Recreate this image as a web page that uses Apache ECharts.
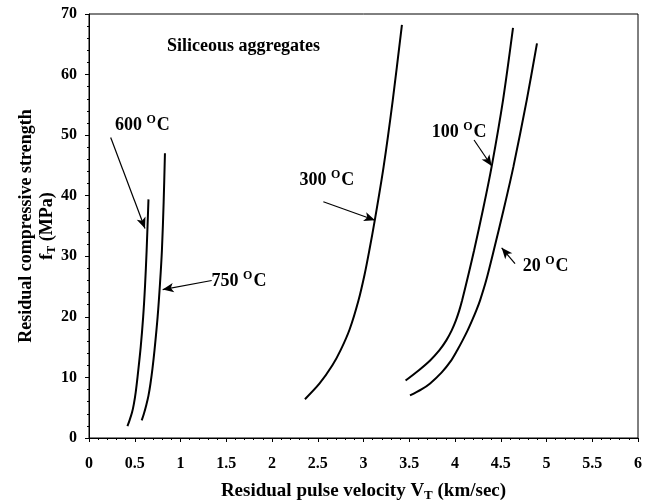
<!DOCTYPE html>
<html>
<head>
<meta charset="utf-8">
<script src="https://cdn.jsdelivr.net/npm/echarts@6/dist/echarts.min.js"></script>
<style>
  html, body { margin: 0; padding: 0; background: #fff; }
  #chart { width: 652px; height: 502px; }
</style>
</head>
<body>
<div id="chart"></div>
<script>
// Residual compressive strength vs residual pulse velocity, siliceous aggregates
const xTicks = ['0', '0.5', '1', '1.5', '2', '2.5', '3', '3.5', '4', '4.5', '5', '5.5', '6'];
const yTicks = ['0', '10', '20', '30', '40', '50', '60', '70'];

// [velocity km/s, strength MPa]
const curve600 = [[0.42, 1.95], [0.445, 3], [0.47, 4.2], [0.49, 5.6], [0.51, 7.5], [0.53, 10], [0.565, 15], [0.592, 20], [0.612, 25], [0.63, 31], [0.65, 39.4]];
const curve750 = [[0.576, 2.9], [0.6, 4], [0.627, 5.5], [0.65, 7], [0.672, 9], [0.694, 11.5], [0.716, 14.5], [0.75, 20], [0.776, 25.5], [0.797, 31], [0.816, 39], [0.83, 47]];
const curve300 = [[2.36, 6.4], [2.52, 9], [2.66, 12], [2.75, 14.5], [2.85, 18], [2.945, 22.7], [3.012, 27], [3.064, 31], [3.124, 36], [3.22, 44.8], [3.32, 55.8], [3.42, 68.2]];
const curve100 = [[3.46, 9.5], [3.602, 11.16], [3.728, 12.81], [3.828, 14.46], [3.905, 16.12], [3.964, 17.77], [4.01, 19.42], [4.047, 21.07], [4.078, 22.73], [4.145, 26.86], [4.209, 30.99], [4.309, 37.93], [4.402, 44.93], [4.525, 55.79], [4.634, 67.69]];
const curve20 = [[3.508, 7.02], [3.633, 8.02], [3.728, 9.01], [3.855, 10.83], [3.951, 12.64], [4.023, 14.46], [4.083, 16.12], [4.138, 17.77], [4.187, 19.42], [4.233, 21.07], [4.274, 22.73], [4.341, 26.03], [4.424, 30.99], [4.535, 37.93], [4.638, 44.76], [4.784, 55.79], [4.896, 65.16]];

// temperature labels: [x, y, text]
const tempLabels = [
  [0.284, 51.6, '600'],
  [1.34, 25.8, '750'],
  [2.30, 42.6, '300'],
  [3.745, 50.5, '100'],
  [4.74, 28.3, '20']
];
// arrows from label to curve: [[x0, y0], [x1, y1]]
const arrows = [
  [[0.237, 49.6], [0.612, 34.6]],
  [[1.341, 26.0], [0.805, 24.5]],
  [[2.561, 39.0], [3.126, 35.95]],
  [[4.208, 49.2], [4.401, 44.9]],
  [[4.656, 28.8], [4.51, 31.4]]
];
const panelTitle = [[0.852, 64.7, 'Siliceous aggregates']];

const FONT = '"Liberation Serif", "Times New Roman", serif';
const chart = echarts.init(document.getElementById('chart'), null, { renderer: 'canvas' });

function curveSeries(data) {
  return {
    type: 'line',
    data: data,
    smooth: 0.3,
    showSymbol: false,
    silent: true,
    lineStyle: { color: '#000', width: 2 },
    z: 3
  };
}

const hidden = { color: 'rgba(0,0,0,0)', opacity: 1 };

chart.setOption({
  animation: false,
  backgroundColor: '#fff',
  grid: {
    left: 89, right: 14, top: 14, bottom: 64,
    containLabel: false,
    outerBoundsMode: 'none',
    show: true, borderColor: '#000', borderWidth: 1, backgroundColor: 'transparent'
  },
  xAxis: {
    type: 'value', min: 0, max: 6, interval: 0.5,
    name: 'Residual pulse velocity V{sub|T} (km/sec)',
    nameLocation: 'middle', nameGap: 42,
    nameTextStyle: {
      fontFamily: FONT, fontWeight: 'bold', fontSize: 19, color: '#000',
      rich: {
        sub: { fontFamily: FONT, fontWeight: 'bold', fontSize: 13, color: '#000', padding: [9, 0, 0, 0] }
      }
    },
    axisLine: { show: true, lineStyle: { color: '#000', width: 1 } },
    axisTick: { show: true, length: 4, inside: false, lineStyle: { color: '#000' } },
    minorTick: { show: true, splitNumber: 5, length: 2, lineStyle: { color: '#000' } },
    splitLine: { show: false },
    axisLabel: {
      margin: 18, color: '#000', fontFamily: FONT, fontWeight: 'bold', fontSize: 16,
      formatter: function (v) { return xTicks[Math.round(v / 0.5)]; }
    }
  },
  yAxis: {
    type: 'value', min: 0, max: 70, interval: 10,
    name: 'Residual compressive strength\nf{sub|T} (MPa)',
    nameLocation: 'middle', nameGap: 31, nameRotate: 90,
    nameMoveOverlap: false,
    nameTextStyle: {
      fontFamily: FONT, fontWeight: 'bold', fontSize: 18, color: '#000', lineHeight: 21,
      rich: {
        sub: { fontFamily: FONT, fontWeight: 'bold', fontSize: 12, color: '#000', padding: [9, 0, 0, 0] }
      }
    },
    axisLine: { show: true, lineStyle: { color: '#000', width: 1 } },
    axisTick: { show: true, length: 4, inside: false, lineStyle: { color: '#000' } },
    minorTick: { show: true, splitNumber: 5, length: 2, lineStyle: { color: '#000' } },
    splitLine: { show: false },
    axisLabel: {
      margin: 12, color: '#000', fontFamily: FONT, fontWeight: 'bold', fontSize: 16,
      formatter: function (v) { return yTicks[Math.round(v / 10)]; }
    }
  },
  series: [
    curveSeries(curve600),
    curveSeries(curve750),
    curveSeries(curve300),
    curveSeries(curve100),
    curveSeries(curve20),
    {
      // temperature labels with superscript degree mark
      type: 'scatter',
      data: tempLabels,
      symbolSize: 1,
      itemStyle: hidden,
      silent: true,
      label: {
        show: true, position: 'inside', align: 'left', verticalAlign: 'middle',
        color: '#000', textBorderWidth: 0, opacity: 1,
        formatter: function (p) { return '{t|' + p.data[2] + ' }{sup|O}{t|C}'; },
        rich: {
          t: { fontFamily: FONT, fontWeight: 'bold', fontSize: 18, color: '#000', textBorderWidth: 0 },
          sup: { fontFamily: FONT, fontWeight: 'bold', fontSize: 12, color: '#000', textBorderWidth: 0, padding: [0, 1, 11, 0] }
        }
      },
      z: 5
    },
    {
      type: 'scatter',
      data: panelTitle,
      symbolSize: 1,
      itemStyle: hidden,
      silent: true,
      label: {
        show: true, position: 'inside', align: 'left', verticalAlign: 'middle',
        textBorderWidth: 0, opacity: 1,
        formatter: function (p) { return p.data[2]; },
        fontFamily: FONT, fontWeight: 'bold', fontSize: 18, color: '#000'
      },
      z: 5
    },
    {
      // pointer arrows
      type: 'line',
      data: [],
      silent: true,
      markLine: {
        silent: true,
        animation: false,
        symbol: ['none', 'arrow'],
        symbolSize: [7, 11],
        label: { show: false },
        lineStyle: { color: '#000', width: 1.2, type: 'solid' },
        data: arrows.map(function (a) { return [{ coord: a[0] }, { coord: a[1] }]; })
      }
    }
  ]
});
</script>
</body>
</html>
